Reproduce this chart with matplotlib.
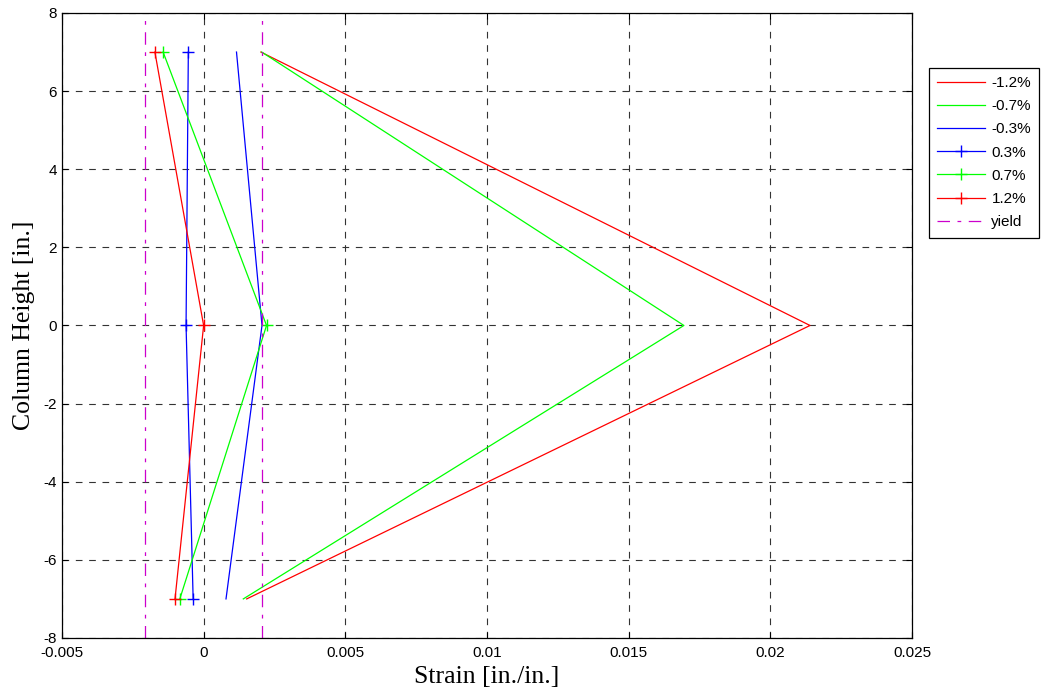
import matplotlib.pyplot as plt

plt.rcParams['axes.unicode_minus'] = False

# column heights (in.)
height = [7, 0, -7]

# strain at each height, per drift level
strain_n12 = [0.00202, 0.0214, 0.00152]
strain_n07 = [0.00205, 0.01695, 0.0014]
strain_n03 = [0.00116, 0.00206, 0.00079]
strain_p03 = [-0.00054, -0.00062, -0.00037]
strain_p07 = [-0.00143, 0.00222, -0.00084]
strain_p12 = [-0.00172, 0.0, -0.00101]

yield_strain = 0.00207
yield_y = [-8, 8]

fig = plt.figure(figsize=(10.43, 6.98), dpi=100)
ax = fig.add_axes([0.0594, 0.086, 0.815, 0.8954])

ax.plot(strain_n12, height, color='#ff0000', lw=0.9, label='-1.2%')
ax.plot(strain_n07, height, color='#00ff00', lw=0.9, label='-0.7%')
ax.plot(strain_n03, height, color='#0000ff', lw=0.9, label='-0.3%')
ax.plot(strain_p03, height, color='#0000ff', lw=0.9, marker='+', ms=9, label='0.3%')
ax.plot(strain_p07, height, color='#00ff00', lw=0.9, marker='+', ms=9, label='0.7%')
ax.plot(strain_p12, height, color='#ff0000', lw=0.9, marker='+', ms=9, label='1.2%')
ax.plot([yield_strain, yield_strain], yield_y, color='#cc00cc', lw=0.9,
        ls=(0, (10, 6, 3, 6)), label='yield')
ax.plot([-yield_strain, -yield_strain], yield_y, color='#cc00cc', lw=0.9,
        ls=(0, (10, 6, 3, 6)))

ax.set_xlim(-0.005, 0.025)
ax.set_ylim(-8, 8)
ax.set_xticks([-0.005, 0, 0.005, 0.01, 0.015, 0.02, 0.025])
ax.set_xticklabels(['-0.005', '0', '0.005', '0.01', '0.015', '0.02', '0.025'])
ax.set_yticks(range(-8, 9, 2))
ax.grid(True, color='#333333', ls=(0, (6, 6)), lw=0.8)
ax.tick_params(direction='in', labelsize=11, length=4, top=True, right=True)
ax.tick_params(axis='x', pad=6)
for lab in ax.get_xticklabels() + ax.get_yticklabels():
    lab.set_family('Liberation Sans')
for s in ax.spines.values():
    s.set_linewidth(0.9)

ax.set_xlabel('Strain [in./in.]', family='Liberation Serif', fontsize=18.5, labelpad=4)
ax.set_ylabel('Column Height [in.]', family='Liberation Serif', fontsize=18.5, labelpad=6)

leg = ax.legend(loc='upper left', bbox_to_anchor=(0.8905, 0.903), bbox_transform=fig.transFigure,
                fancybox=False, framealpha=1, edgecolor='black', prop={'family': 'Liberation Sans', 'size': 11},
                handlelength=3.1, borderpad=0.55, labelspacing=0.6, handletextpad=0.45, borderaxespad=0)
leg.get_frame().set_linewidth(0.9)

fig.savefig('out.png', dpi=100)
